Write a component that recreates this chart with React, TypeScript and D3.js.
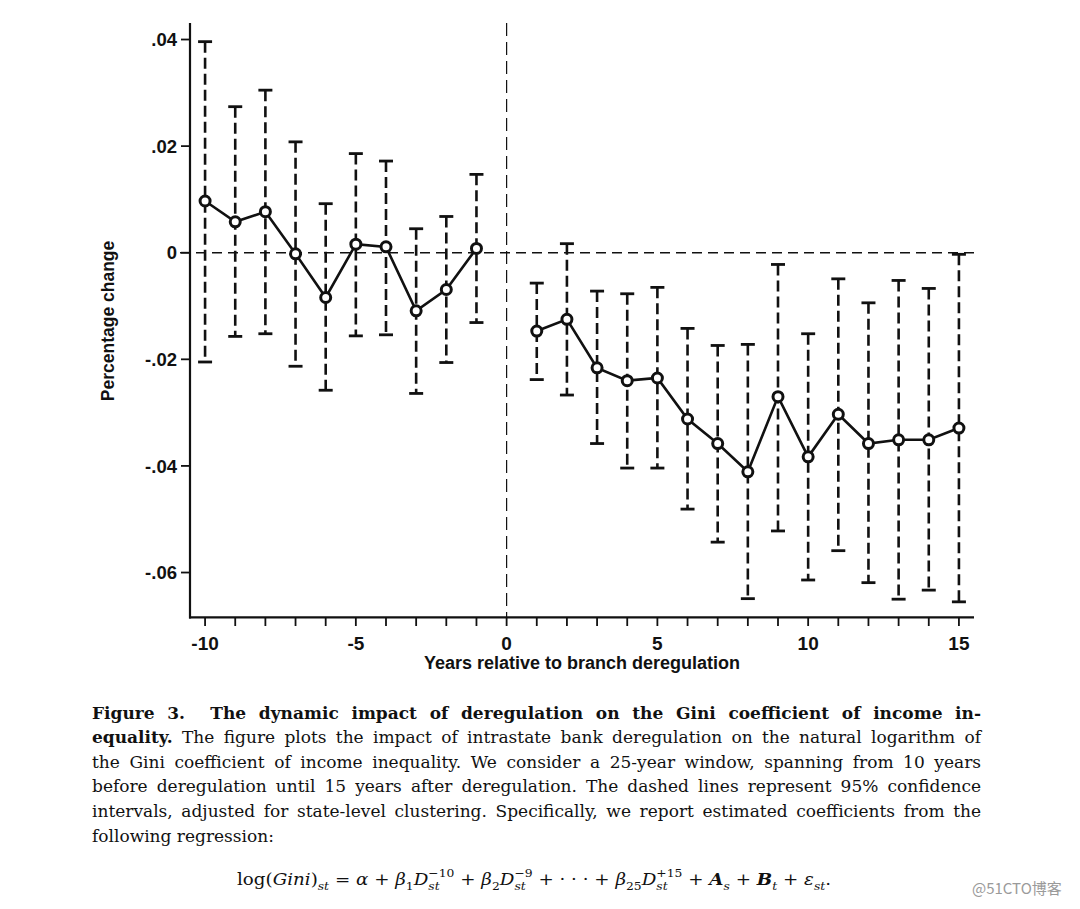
import React, { useEffect, useRef } from 'react';
import * as d3 from 'd3';

// ---- data ----
const years = [-10, -9, -8, -7, -6, -5, -4, -3, -2, -1, 1, 2, 3, 4, 5, 6, 7, 8, 9, 10, 11, 12, 13, 14, 15];
const estimates = [0.0097, 0.0058, 0.0077, -0.0002, -0.0084, 0.0016, 0.0011, -0.0109, -0.0069, 0.0008,
  -0.0147, -0.0125, -0.0216, -0.0240, -0.0235, -0.0312, -0.0358, -0.0411, -0.0270, -0.0383, -0.0303, -0.0358, -0.0351, -0.0351, -0.0329];
const upper = [0.0396, 0.0274, 0.0305, 0.0208, 0.0092, 0.0186, 0.0172, 0.0045, 0.0068, 0.0147,
  -0.0057, 0.0017, -0.0072, -0.0077, -0.0065, -0.0142, -0.0174, -0.0172, -0.0022, -0.0152, -0.0049, -0.0094, -0.0052, -0.0067, -0.0003];
const lower = [-0.0205, -0.0157, -0.0152, -0.0213, -0.0258, -0.0156, -0.0154, -0.0264, -0.0206, -0.0131,
  -0.0238, -0.0267, -0.0358, -0.0404, -0.0404, -0.0481, -0.0543, -0.0649, -0.0522, -0.0614, -0.0559, -0.0619, -0.0650, -0.0633, -0.0655];
const xMinorTicks = d3.range(-10, 16);
const xTickValues = [-10, -5, 0, 5, 10, 15];
const yTickValues = [0.04, 0.02, 0, -0.02, -0.04, -0.06];
const yTickLabels = ['.04', '.02', '0', '-.02', '-.04', '-.06'];
const xTitle = 'Years relative to branch deregulation';
const yTitle = 'Percentage change';
const captionBoldLine = 'Figure 3.  The dynamic impact of deregulation on the Gini coefficient of income in-';
const captionBoldStart = 'equality.';
const captionLines = [
  ' The figure plots the impact of intrastate bank deregulation on the natural logarithm of',
  'the Gini coefficient of income inequality. We consider a 25-year window, spanning from 10 years',
  'before deregulation until 15 years after deregulation. The dashed lines represent 95% confidence',
  'intervals, adjusted for state-level clustering. Specifically, we report estimated coefficients from the',
  'following regression:',
];
const watermark = '@51CTO博客';

// equation pieces
type Seg = { t: string; s?: 'n' | 'i' | 'bi'; p?: 'base' | 'sub' | 'sup' | 'stack'; sup?: string };
const equation: Seg[] = [
  { t: 'log(' }, { t: 'Gini', s: 'i' }, { t: ')' }, { t: 'st', s: 'i', p: 'sub' },
  { t: ' = ' }, { t: 'α', s: 'i' }, { t: ' + ' }, { t: 'β', s: 'i' }, { t: '1', p: 'sub' },
  { t: 'D', s: 'i' }, { t: 'st', s: 'i', p: 'stack', sup: '−10' },
  { t: ' + ' }, { t: 'β', s: 'i' }, { t: '2', p: 'sub' },
  { t: 'D', s: 'i' }, { t: 'st', s: 'i', p: 'stack', sup: '−9' },
  { t: ' + · · · + ' }, { t: 'β', s: 'i' }, { t: '25', p: 'sub' },
  { t: 'D', s: 'i' }, { t: 'st', s: 'i', p: 'stack', sup: '+15' },
  { t: ' + ' }, { t: 'A', s: 'bi' }, { t: 's', s: 'i', p: 'sub' },
  { t: ' + ' }, { t: 'B', s: 'bi' }, { t: 't', s: 'i', p: 'sub' },
  { t: ' + ' }, { t: 'ε', s: 'i' }, { t: 'st', s: 'i', p: 'sub' }, { t: '.' },
];

const W = 1080;
const H = 909;
const sans = '"Liberation Sans", Arial, Helvetica, sans-serif';
const serif = '"DejaVu Serif", "Liberation Serif", serif';

export default function App() {
  const eqRef = useRef<SVGGElement>(null);
  const capRef = useRef<SVGGElement>(null);

  const x = d3.scaleLinear().domain([-10.5, 15.5]).range([190, 974]);
  const y = d3.scaleLinear().domain([-0.0684, 0.0431]).range([617.3, 23]);

  const pts = years.map((yr, i) => ({ yr, est: estimates[i], hi: upper[i], lo: lower[i] }));
  const line = d3.line<any>().x(d => x(d.yr)).y(d => y(d.est));
  const pre = pts.filter(d => d.yr < 0);
  const post = pts.filter(d => d.yr > 0);

  const capX0 = 92;
  const capX1 = 981;
  const capY0 = 718.5;
  const capDy = 24.6;
  const capSize = 17;

  useEffect(() => {
    // justify caption lines with word spacing
    if (capRef.current) {
      const texts = capRef.current.querySelectorAll('text[data-justify="1"]');
      texts.forEach(node => {
        const t = node as SVGTextElement;
        t.style.wordSpacing = '0px';
        const natural = t.getComputedTextLength();
        const content = t.textContent || '';
        const spaces = (content.match(/ /g) || []).length;
        if (spaces > 0) {
          const ws = (capX1 - capX0 - natural) / spaces;
          t.style.wordSpacing = ws + 'px';
          const after = t.getComputedTextLength();
          if (Math.abs(after - (capX1 - capX0)) > 2) {
            t.setAttribute('textLength', String(capX1 - capX0));
            t.setAttribute('lengthAdjust', 'spacing');
          }
        }
      });
    }

    const g = d3.select(eqRef.current);
    g.selectAll('*').remove();
    const size = 17;
    const small = 11.5;
    let cx = 0;
    const place = (txt: string, style: string | undefined, fs: number, dy: number) => {
      const el = g.append('text')
        .attr('x', cx).attr('y', dy)
        .attr('font-family', serif)
        .attr('font-size', fs)
        .attr('font-style', style === 'i' || style === 'bi' ? 'italic' : 'normal')
        .attr('font-weight', style === 'bi' ? 'bold' : 'normal')
        .attr('fill', '#111')
        .style('white-space', 'pre')
        .text(txt);
      return (el.node() as SVGTextElement).getComputedTextLength();
    };
    equation.forEach(seg => {
      if (seg.p === 'sub') {
        cx += place(seg.t, seg.s, small, 5);
      } else if (seg.p === 'stack') {
        const w1 = place(seg.t, seg.s, small, 5);
        const w2 = place(seg.sup || '', 'n', small, -8);
        cx += Math.max(w1, w2);
      } else {
        cx += place(seg.t, seg.s, size, 0);
      }
    });
    const startX = 237;
    const endX = 831;
    const k = (endX - startX) / cx;
    g.attr('transform', `translate(${startX},885) scale(${k},1)`);
  }, []);

  return (
    <svg width={W} height={H} style={{ position: 'absolute', left: 0, top: 0, background: '#fff' }}>
      <rect x={0} y={0} width={W} height={H} fill="#fff" />
      {/* reference lines */}
      <line x1={180} x2={974} y1={y(0)} y2={y(0)} stroke="#111" strokeWidth={1.4} strokeDasharray="10,6" />
      <line x1={x(0)} x2={x(0)} y1={23} y2={617.3} stroke="#111" strokeWidth={1.2} strokeDasharray="13,6" />

      {/* axes */}
      <line x1={190} x2={190} y1={23} y2={618.5} stroke="#111" strokeWidth={2.2} />
      <line x1={189} x2={974} y1={617.3} y2={617.3} stroke="#111" strokeWidth={2.2} />
      {yTickValues.map((v, i) => (
        <g key={'yt' + i}>
          <line x1={181} x2={190} y1={y(v)} y2={y(v)} stroke="#111" strokeWidth={1.8} />
          <text x={177} y={y(v)} dy="0.36em" textAnchor="end" fontFamily={sans} fontWeight="bold" fontSize={18.5} fill="#111">{yTickLabels[i]}</text>
        </g>
      ))}
      {xMinorTicks.map(v => (
        <line key={'xm' + v} x1={x(v)} x2={x(v)} y1={617.3} y2={626} stroke="#111" strokeWidth={1.8} />
      ))}
      {xTickValues.map(v => (
        <text key={'xl' + v} x={x(v)} y={650} textAnchor="middle" fontFamily={sans} fontWeight="bold" fontSize={19} fill="#111">{v}</text>
      ))}
      <text x={582} y={669} textAnchor="middle" fontFamily={sans} fontWeight="bold" fontSize={18} fill="#111">{xTitle}</text>
      <text transform="translate(114,321) rotate(-90)" textAnchor="middle" fontFamily={sans} fontWeight="bold" fontSize={17.5} fill="#111">{yTitle}</text>

      {/* error bars */}
      {pts.map(d => (
        <g key={'eb' + d.yr}>
          <line x1={x(d.yr)} x2={x(d.yr)} y1={y(d.hi)} y2={y(d.lo)} stroke="#111" strokeWidth={2.6} strokeDasharray="11,5" />
          <line x1={x(d.yr) - 7} x2={x(d.yr) + 7} y1={y(d.hi)} y2={y(d.hi)} stroke="#111" strokeWidth={2.8} />
          <line x1={x(d.yr) - 7} x2={x(d.yr) + 7} y1={y(d.lo)} y2={y(d.lo)} stroke="#111" strokeWidth={2.8} />
        </g>
      ))}

      {/* estimate lines */}
      <path d={line(pre) || ''} fill="none" stroke="#111" strokeWidth={2.6} />
      <path d={line(post) || ''} fill="none" stroke="#111" strokeWidth={2.6} />
      {pts.map(d => (
        <circle key={'pt' + d.yr} cx={x(d.yr)} cy={y(d.est)} r={5} fill="#fff" stroke="#111" strokeWidth={3} />
      ))}

      {/* caption */}
      <g ref={capRef}>
        <text data-justify="1" x={capX0} y={capY0} fontFamily={serif} fontWeight="bold" fontSize={capSize} fill="#111"
          style={{ whiteSpace: 'pre' }}>{captionBoldLine}</text>
        {captionLines.map((ln, i) => {
          const last = i === captionLines.length - 1;
          return (
            <text key={'cap' + i} data-justify={last ? '0' : '1'} x={capX0} y={capY0 + capDy * (i + 1)} fontFamily={serif} fontSize={capSize} fill="#111"
              style={{ whiteSpace: 'pre' }}>
              {i === 0 ? <tspan fontWeight="bold">{captionBoldStart}</tspan> : null}
              {ln}
            </text>
          );
        })}
      </g>
      <g ref={eqRef} />
      <text x={972} y={894} fontFamily={'"Noto Sans CJK SC", "Noto Sans", sans-serif'} fontSize={15} fill="#9a9a9a">{watermark}</text>
    </svg>
  );
}
